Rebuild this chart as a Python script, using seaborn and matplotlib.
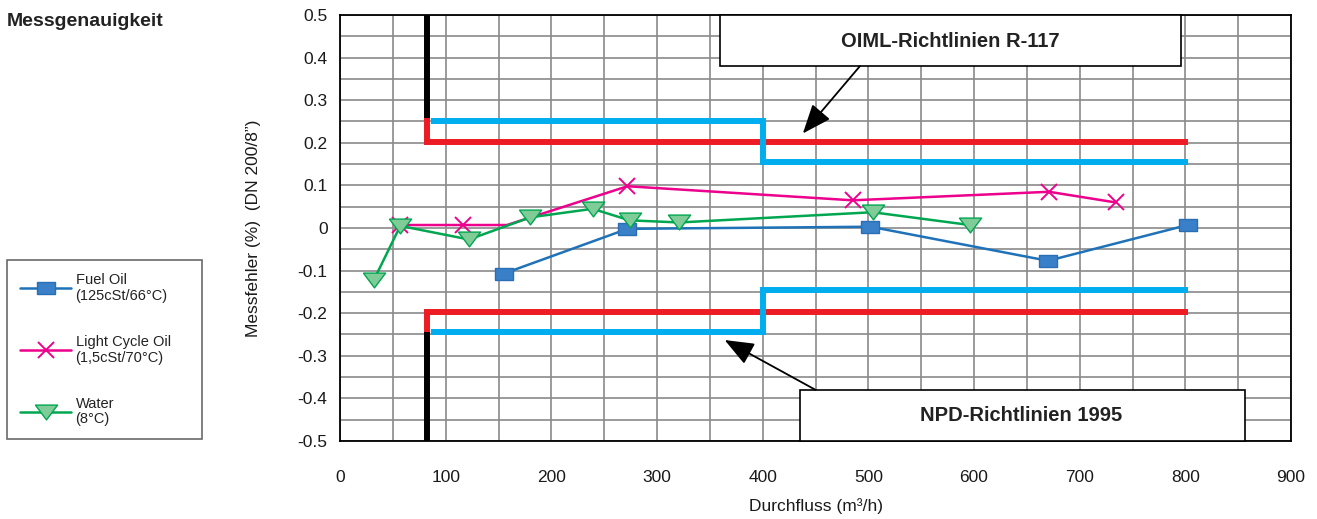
import matplotlib
matplotlib.use('Agg')
import matplotlib.pyplot as plt
import matplotlib.patches as mpatches
from matplotlib.ticker import MultipleLocator, FuncFormatter
import seaborn as sns

#Measured series (flow m3/h, error %)
fuel_x = [155, 272, 502, 670, 802]
fuel_y = [-0.107, -0.002, 0.003, -0.077, 0.007]
lco_x = [57, 116, 158, 272, 485, 671, 734]
lco_y = [0.007, 0.007, 0.007, 0.098, 0.065, 0.085, 0.060]
water_x = [32, 57, 122, 180, 239, 274, 321, 504, 596]
water_y = [-0.122, 0.005, -0.027, 0.025, 0.045, 0.018, 0.013, 0.037, 0.007]

series_labels = ['Fuel Oil\n(125cSt/66°C)', 'Light Cycle Oil\n(1,5cSt/70°C)', 'Water\n(8°C)']

#Guideline limits
oiml_up_x = [82, 82, 802]
oiml_up_y = [0.258, 0.202, 0.202]
oiml_lo_x = [82, 82, 802]
oiml_lo_y = [-0.245, -0.197, -0.197]
npd_up_x = [86, 400, 400, 802]
npd_up_y = [0.250, 0.250, 0.155, 0.155]
npd_lo_x = [86, 400, 400, 802]
npd_lo_y = [-0.245, -0.245, -0.145, -0.145]
qmin_up_x = [82, 82]
qmin_up_y = [0.5, 0.258]
qmin_lo_x = [82, 82]
qmin_lo_y = [-0.245, -0.5]

sns.set_theme(style='white')
plt.rcParams['font.family'] = ['Liberation Sans', 'DejaVu Sans']
plt.rcParams['axes.unicode_minus'] = False

fig = plt.figure(figsize=(13.17, 5.19), dpi=100)
ax = fig.add_axes([0.2582, 0.1503, 0.7221, 0.8208])

RED = '#ED1C24'
CYAN = '#00AEEF'
lim_kw = dict(estimator=None, sort=False, ax=ax, linewidth=4.3, solid_capstyle='butt',
              solid_joinstyle='miter')

sns.lineplot(x=qmin_up_x, y=qmin_up_y, color='black', **lim_kw)
sns.lineplot(x=qmin_lo_x, y=qmin_lo_y, color='black', **lim_kw)
sns.lineplot(x=oiml_up_x, y=oiml_up_y, color=RED, **lim_kw)
sns.lineplot(x=oiml_lo_x, y=oiml_lo_y, color=RED, **lim_kw)
sns.lineplot(x=npd_up_x, y=npd_up_y, color=CYAN, **lim_kw)
sns.lineplot(x=npd_lo_x, y=npd_lo_y, color=CYAN, **lim_kw)

rect_marker = [(-1.6, -1), (1.6, -1), (1.6, 1), (-1.6, 1), (-1.6, -1)]
tri_marker = [(-1.5, 1), (1.5, 1), (0, -1), (-1.5, 1)]

sns.lineplot(x=fuel_x, y=fuel_y, estimator=None, sort=False, ax=ax, color='#1F72B8',
             linewidth=1.8, marker=rect_marker, markersize=13, markerfacecolor='#3A80C8',
             markeredgecolor='#2A6FB5', markeredgewidth=1, label=series_labels[0], zorder=4)
sns.lineplot(x=lco_x, y=lco_y, estimator=None, sort=False, ax=ax, color='#EC008C',
             linewidth=1.8, marker='x', markersize=11, markeredgecolor='#EC008C',
             markeredgewidth=1.4, markevery=[0, 1, 3, 4, 5, 6], label=series_labels[1], zorder=4)
sns.lineplot(x=water_x, y=water_y, estimator=None, sort=False, ax=ax, color='#00A650',
             linewidth=1.8, marker=tri_marker, markersize=16, markerfacecolor='#80CC98',
             markeredgecolor='#00A650', markeredgewidth=1, label=series_labels[2], zorder=4)

handles, labels = ax.get_legend_handles_labels()
if ax.get_legend() is not None:
    ax.get_legend().remove()

ax.set_xlim(0, 900)
ax.set_ylim(-0.5, 0.5)
ax.xaxis.set_major_locator(MultipleLocator(100))
ax.xaxis.set_minor_locator(MultipleLocator(50))
ax.yaxis.set_major_locator(MultipleLocator(0.1))
ax.yaxis.set_minor_locator(MultipleLocator(0.05))
ax.yaxis.set_major_formatter(FuncFormatter(lambda v, p: '0' if abs(v) < 1e-9 else f'{v:.1f}'))
ax.grid(True, which='both', color='#8a8a8a', linewidth=1.2)
ax.set_axisbelow(True)
ax.tick_params(which='both', direction='out', length=6, width=1.2, color='#8a8a8a',
               labelsize=12.5, colors='#8a8a8a', labelcolor='#1a1a1a', pad=3)
ax.tick_params(axis='x', which='both', length=5, pad=16)
for s in ax.spines.values():
    s.set_color('black')
    s.set_linewidth(1.3)

ax.set_xlabel('Durchfluss (m³/h)', fontsize=12.5, color='#1a1a1a', labelpad=9)
ax.set_ylabel('Messfehler (%)  (DN 200/8”)', fontsize=12.5, color='#1a1a1a', labelpad=26)

#Annotation boxes
box_kw = dict(facecolor='white', edgecolor='black', linewidth=1.2, zorder=6, clip_on=False)
ax.add_patch(mpatches.Rectangle((360, 0.38), 436, 0.12, **box_kw))
ax.text(578, 0.437, 'OIML-Richtlinien R-117', ha='center', va='center', fontsize=14.5,
        fontweight='bold', color='#222222', zorder=7)
ax.add_patch(mpatches.Rectangle((435, -0.5), 421, 0.12, **box_kw))
ax.text(645, -0.44, 'NPD-Richtlinien 1995', ha='center', va='center', fontsize=14.5,
        fontweight='bold', color='#222222', zorder=7)

arrow = dict(arrowstyle='-|>,head_length=1.0,head_width=0.4', color='black', lw=1.3,
             mutation_scale=18, shrinkA=0, shrinkB=0)
ax.annotate('', xy=(438, 0.222), xytext=(492, 0.38), arrowprops=arrow, zorder=6)
ax.annotate('', xy=(364, -0.263), xytext=(450, -0.38), arrowprops=arrow, zorder=6)

fig.text(0.0053, 1 - 22 / 519, 'Messgenauigkeit', fontsize=14, fontweight='bold',
         color='#222222', va='center', ha='left')

leg = fig.legend(handles, labels, loc='upper left',
                 bbox_to_anchor=(7 / 1317, 0.152, 195 / 1317, 0.347), mode='expand',
                 frameon=True, fancybox=False, fontsize=10.5, handlelength=3.5,
                 labelspacing=2.2, borderpad=0.9, handletextpad=0.3, borderaxespad=0)
leg.get_frame().set_edgecolor('#444444')
leg.get_frame().set_linewidth(1.2)
for t in leg.get_texts():
    t.set_color('#222222')
    t.set_linespacing(1.15)

fig.savefig('out.png', dpi=100)
